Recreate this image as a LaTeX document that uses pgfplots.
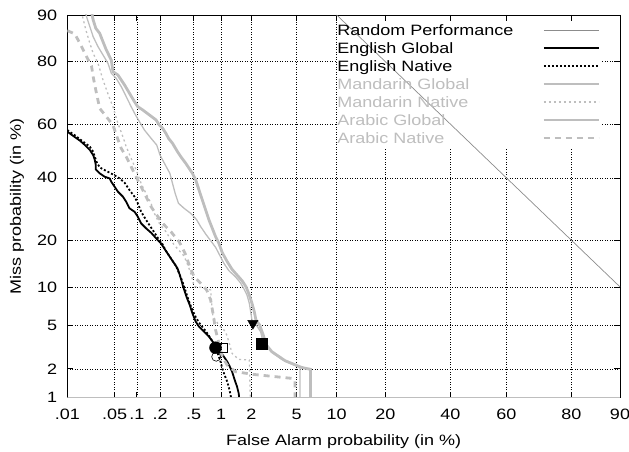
\documentclass[border=0pt]{standalone}
\usepackage{pgfplots}
\pgfplotsset{compat=1.18}
\usepackage{fontspec}
\setmainfont{Liberation Sans}[FakeStretch=1.2]
\definecolor{lgray}{RGB}{190,190,190}
\definecolor{rpgray}{RGB}{140,140,140}
% All data in normal-deviate (probit) units of the DET axes.
\begin{document}
\fontsize{15}{18}\selectfont
\begin{tikzpicture}
\useasboundingbox (-67.3pt,-54.3pt) rectangle (561.7pt,397.7pt);
\begin{axis}[
  at={(0pt,0pt)}, anchor=south west,
  scale only axis, width=552.7pt, height=382.7pt,
  xmin=-3.719, xmax=1.2816, ymin=-2.3263, ymax=1.2816,
  xtick={-3.719,-3.2905,-3.0902,-2.8782,-2.5758,-2.3263,-2.0537,-1.6449,-1.2816,-0.8416,-0.2533,0.2533,0.8416,1.2816},
  xticklabels={.01,.05,.1,.2,.5,1,2,5,10,20,40,60,80,90},
  ytick={-2.3263,-2.0537,-1.6449,-1.2816,-0.8416,-0.2533,0.2533,0.8416,1.2816},
  yticklabels={1,2,5,10,20,40,60,80,90},
  grid=major,
  grid style={black, line width=0.5pt, dash pattern=on 1pt off 1.5pt},
  tick align=inside, major tick length=6pt,
  tick style={black, line width=0.6pt},
  axis line style={black, line width=0.8pt},
  xticklabel style={anchor=base, yshift=-22pt, inner sep=0pt},
  yticklabel style={anchor=east, xshift=-10pt, inner sep=0pt},
  xlabel={False Alarm probability (in \%)},
  ylabel={Miss probability (in \%)},
  xlabel style={at={([yshift=-47.8pt]axis description cs:0.5,0)}, anchor=base, inner sep=0pt},
  ylabel style={at={([xshift=-46.3pt]axis description cs:0,0.5)}, anchor=base, inner sep=0pt},
  legend style={at={(axis description cs:0.4885,0.9765)}, anchor=north west,
    draw=none, fill=none, inner sep=0pt, outer sep=0pt, row sep=2pt, column sep=29pt,
    nodes={inner sep=0pt, outer sep=0pt, text height=12pt, text depth=4pt}},
  legend cell align=left,
  legend plot pos=right,
  legend image code/.code={\draw[#1] (0pt,2pt) -- (55pt,2pt);},
]
\fill[white] (axis cs:-1.282,0.028) rectangle (axis cs:1.118,1.216);

\addplot[rpgray, line width=0.7pt] coordinates {(-1.2816,1.2816) (1.2816,-1.2816)};
\addlegendentry{Random Performance}

\addplot[black, line width=1.8pt] coordinates {
(-3.719,0.182) (-3.665,0.141) (-3.605,0.097) (-3.560,0.056) (-3.515,0.009)
(-3.485,-0.039) (-3.470,-0.086) (-3.461,-0.133) (-3.461,-0.174) (-3.426,-0.211)
(-3.381,-0.243) (-3.336,-0.259) (-3.321,-0.290) (-3.291,-0.337) (-3.261,-0.384)
(-3.216,-0.431) (-3.186,-0.479) (-3.156,-0.541) (-3.111,-0.573) (-3.081,-0.620)
(-3.051,-0.683) (-3.006,-0.730) (-2.961,-0.771) (-2.901,-0.840) (-2.871,-0.871)
(-2.842,-0.919) (-2.812,-0.966) (-2.782,-1.013) (-2.752,-1.060) (-2.722,-1.107)
(-2.701,-1.170) (-2.683,-1.233) (-2.671,-1.280) (-2.641,-1.374) (-2.611,-1.453)
(-2.587,-1.531) (-2.557,-1.610) (-2.527,-1.657) (-2.482,-1.704) (-2.437,-1.751)
(-2.392,-1.814) (-2.347,-1.877) (-2.302,-1.940) (-2.272,-1.987) (-2.251,-2.028)
(-2.228,-2.081) (-2.204,-2.160) (-2.183,-2.223) (-2.168,-2.286) (-2.162,-2.349)};
\addlegendentry{English Global}

\addplot[black, line width=1.8pt, dash pattern=on 2pt off 2pt] coordinates {
(-3.719,0.197) (-3.650,0.147) (-3.575,0.087) (-3.515,0.040) (-3.485,-0.007)
(-3.455,-0.101) (-3.426,-0.155) (-3.366,-0.189) (-3.306,-0.221) (-3.246,-0.259)
(-3.201,-0.299) (-3.156,-0.369) (-3.111,-0.431) (-3.081,-0.494) (-3.051,-0.573)
(-3.006,-0.651) (-2.946,-0.746) (-2.901,-0.818) (-2.862,-0.871) (-2.827,-0.941)
(-2.782,-1.013) (-2.737,-1.082) (-2.707,-1.154) (-2.677,-1.233) (-2.647,-1.327)
(-2.617,-1.421) (-2.587,-1.500) (-2.551,-1.579) (-2.512,-1.641) (-2.467,-1.698)
(-2.422,-1.767) (-2.377,-1.846) (-2.353,-1.924) (-2.332,-1.987) (-2.317,-2.050)
(-2.296,-2.113) (-2.272,-2.176) (-2.251,-2.254) (-2.233,-2.349)};
\addlegendentry{English Native}

\addplot[lgray, line width=1.3pt] coordinates {
(-3.569,1.360) (-3.545,1.266) (-3.515,1.172) (-3.485,1.077) (-3.441,0.983)
(-3.396,0.905) (-3.351,0.826) (-3.321,0.732) (-3.276,0.684) (-3.231,0.606)
(-3.186,0.512) (-3.141,0.417) (-3.102,0.339) (-3.066,0.276) (-3.021,0.197)
(-2.961,0.119) (-2.910,0.056) (-2.880,-0.039) (-2.832,-0.133) (-2.791,-0.211)
(-2.767,-0.306) (-2.743,-0.400) (-2.713,-0.494) (-2.662,-0.541) (-2.602,-0.589)
(-2.551,-0.645) (-2.512,-0.714) (-2.467,-0.783) (-2.422,-0.846) (-2.377,-0.909)
(-2.341,-0.981) (-2.302,-1.060) (-2.257,-1.129) (-2.198,-1.186) (-2.153,-1.242)
(-2.123,-1.296) (-2.093,-1.359) (-2.072,-1.437) (-2.060,-1.516) (-2.048,-1.594)
(-2.003,-1.651) (-1.970,-1.704) (-1.952,-1.783) (-1.913,-1.846) (-1.853,-1.909)
(-1.778,-1.965) (-1.688,-2.009) (-1.614,-2.041) (-1.614,-2.349)};
\addlegendentry{\textcolor{lgray}{Mandarin Global}}

\addplot[lgray, line width=1.3pt, dash pattern=on 2pt off 3pt] coordinates {
(-3.599,1.360) (-3.581,1.266) (-3.551,1.140) (-3.515,1.015) (-3.485,0.920)
(-3.441,0.826) (-3.396,0.669) (-3.342,0.512) (-3.306,0.417) (-3.261,0.260)
(-3.216,0.134) (-3.186,0.040) (-3.141,-0.070) (-3.096,-0.180) (-3.051,-0.306)
(-3.000,-0.416) (-2.961,-0.494) (-2.931,-0.589) (-2.886,-0.683) (-2.827,-0.761)
(-2.752,-0.887) (-2.662,-0.991) (-2.623,-1.091) (-2.593,-1.186) (-2.572,-1.280)
(-2.497,-1.286) (-2.422,-1.311) (-2.413,-1.437) (-2.401,-1.563) (-2.347,-1.641)
(-2.287,-1.704) (-2.257,-1.799) (-2.228,-1.909) (-2.168,-1.965) (-2.072,-1.971)
(-2.063,-2.349)};
\addlegendentry{\textcolor{lgray}{Mandarin Native}}

\addplot[lgray, line width=2.8pt] coordinates {
(-3.509,1.360) (-3.485,1.235) (-3.461,1.156) (-3.426,1.109) (-3.396,1.030)
(-3.366,0.952) (-3.321,0.857) (-3.306,0.747) (-3.261,0.716) (-3.231,0.669)
(-3.201,0.622) (-3.156,0.543) (-3.111,0.464) (-3.081,0.417) (-3.036,0.386)
(-2.976,0.339) (-2.916,0.292) (-2.886,0.244) (-2.856,0.213) (-2.827,0.166)
(-2.803,0.119) (-2.767,0.072) (-2.722,-0.007) (-2.692,-0.054) (-2.647,-0.117)
(-2.617,-0.164) (-2.587,-0.211) (-2.557,-0.274) (-2.527,-0.369) (-2.497,-0.463)
(-2.467,-0.557) (-2.437,-0.651) (-2.407,-0.730) (-2.377,-0.809) (-2.347,-0.871)
(-2.317,-0.959) (-2.272,-1.044) (-2.228,-1.117) (-2.183,-1.170) (-2.138,-1.223)
(-2.102,-1.280) (-2.072,-1.359) (-2.048,-1.437) (-2.027,-1.516) (-2.012,-1.594)
(-1.979,-1.641) (-1.943,-1.745) (-1.922,-1.824) (-1.868,-1.893) (-1.748,-1.978)
(-1.599,-2.041) (-1.518,-2.059) (-1.518,-2.349)};
\addlegendentry{\textcolor{lgray}{Arabic Global}}

\addplot[lgray, line width=2.8pt, dash pattern=on 6pt off 5pt] coordinates {
(-3.719,1.134) (-3.650,1.103) (-3.590,0.983) (-3.545,0.889) (-3.500,0.801)
(-3.485,0.700) (-3.455,0.543) (-3.426,0.402) (-3.366,0.323) (-3.306,0.244)
(-3.270,0.134) (-3.231,0.024) (-3.186,-0.054) (-3.141,-0.149) (-3.096,-0.243)
(-3.051,-0.337) (-3.006,-0.431) (-2.961,-0.526) (-2.916,-0.595) (-2.856,-0.683)
(-2.782,-0.761) (-2.707,-0.856) (-2.653,-0.966) (-2.611,-1.091) (-2.572,-1.186)
(-2.512,-1.249) (-2.458,-1.311) (-2.422,-1.406) (-2.401,-1.531) (-2.377,-1.689)
(-2.347,-1.814) (-2.317,-1.940) (-2.272,-2.019) (-2.198,-2.081) (-2.033,-2.107)
(-1.688,-2.144) (-1.658,-2.166) (-1.658,-2.349)};
\addlegendentry{\textcolor{lgray}{Arabic Native}}

% operating points
\addplot[forget plot, only marks, mark=*, mark size=6pt, black] coordinates {(-2.378,-1.855)};
\addplot[forget plot, only marks, mark=square, mark size=4.5pt, black, line width=0.6pt] coordinates {(-2.312,-1.860)};
\addplot[forget plot, only marks, mark=o, mark size=4.5pt, black, line width=0.6pt] coordinates {(-2.372,-1.940)};
\addplot[forget plot, only marks, mark=triangle*, mark size=6pt, black, mark options={rotate=180}] coordinates {(-2.040,-1.625)};
\addplot[forget plot, only marks, mark=square*, mark size=5.5pt, black] coordinates {(-1.964,-1.813)};

\draw[lgray, line width=2pt] (rel axis cs:0,0) -- (rel axis cs:1,0);
\end{axis}
\end{tikzpicture}
\end{document}
